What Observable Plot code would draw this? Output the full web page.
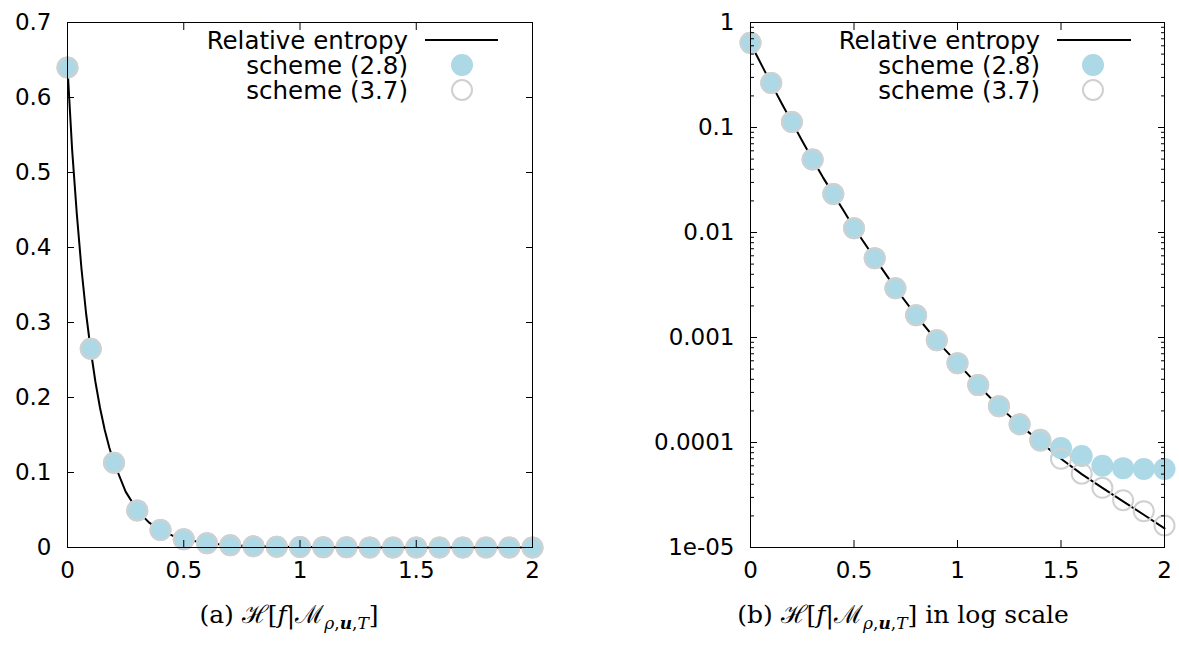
<!DOCTYPE html>
<html>
<head>
<meta charset="utf-8">
<script src="https://cdn.jsdelivr.net/npm/d3@7"></script>
<script src="https://cdn.jsdelivr.net/npm/@observablehq/plot@0.6"></script>
<style>
  html, body { margin: 0; padding: 0; background: #fff; }
  #page { position: relative; width: 1179px; height: 648px; overflow: hidden; background: #fff; }
  .panel { position: absolute; top: 0; }
  .caption { position: absolute; top: 596px; font-family: "DejaVu Serif", "Liberation Serif", serif; font-size: 25px; color: #000; white-space: nowrap; transform: translateX(-50%); }
  .caption sub { font-size: 17px; vertical-align: -6px; line-height: 0; }
  #legend { position: absolute; left: 0; top: 0; pointer-events: none; }
</style>
</head>
<body>
<div id="page">
  <div class="panel" id="left" style="left:0px"></div>
  <div class="panel" id="right" style="left:590px"></div>
  <div class="caption" style="left:289px">(a) ℋ[<i>f</i>|ℳ<sub><i>ρ</i>,<b><i>u</i></b>,<i>T</i></sub>]</div>
  <div class="caption" style="left:903px">(b) ℋ[<i>f</i>|ℳ<sub><i>ρ</i>,<b><i>u</i></b>,<i>T</i></sub>] in log scale</div>
</div>
<script>
// ---- data ----
const times = [0, 0.1, 0.2, 0.3, 0.4, 0.5, 0.6, 0.7, 0.8, 0.9, 1.0, 1.1, 1.2, 1.3, 1.4, 1.5, 1.6, 1.7, 1.8, 1.9, 2.0];
const scheme28 = [0.64, 0.265, 0.113, 0.0495, 0.0233, 0.011, 0.0057, 0.00295, 0.00163, 0.00094, 0.00057, 0.000352, 0.000222, 0.000149, 0.000106, 0.0000885, 0.0000745, 0.00006, 0.000057, 0.000056, 0.000056];
const scheme37 = [0.64, 0.265, 0.113, 0.0495, 0.0233, 0.011, 0.0057, 0.00295, 0.00163, 0.00094, 0.00057, 0.000352, 0.000222, 0.000149, 0.000104, 0.00007, 0.0000505, 0.000037, 0.0000282, 0.0000222, 0.0000162];
const entropyT = [0, 0.02, 0.04, 0.06, 0.08, 0.1, 0.12, 0.14, 0.16, 0.18, 0.2, 0.25, 0.3, 0.35, 0.4, 0.45, 0.5, 0.6, 0.7, 0.8, 0.9, 1.0, 1.1, 1.2, 1.3, 1.4, 1.5, 1.6, 1.7, 1.8, 1.9, 2.0];
const entropyH = [0.64, 0.53, 0.445, 0.372, 0.312, 0.263, 0.221, 0.186, 0.157, 0.133, 0.113, 0.0745, 0.0495, 0.0335, 0.0232, 0.0161, 0.0111, 0.0057, 0.00295, 0.00162, 0.00093, 0.00057, 0.00035, 0.00022, 0.000148, 0.000101, 0.00007, 0.00005, 0.000037, 0.0000275, 0.0000205, 0.0000152];
const xTicks = [0, 0.5, 1, 1.5, 2];
const xTickLabels = ["0", "0.5", "1", "1.5", "2"];
const yLinTicks = [0, 0.1, 0.2, 0.3, 0.4, 0.5, 0.6, 0.7];
const yLinLabels = ["0", "0.1", "0.2", "0.3", "0.4", "0.5", "0.6", "0.7"];
const yLogTicks = [1, 0.1, 0.01, 0.001, 0.0001, 0.00001];
const yLogLabels = ["1", "0.1", "0.01", "0.001", "0.0001", "1e-05"];
const seriesNames = ["Relative entropy", "scheme (2.8)", "scheme (3.7)"];

const FILL_BLUE = "#add8e6";
const RING_GREY = "#d0d0d0";
const FONT = "DejaVu Sans";
const FS = 23;
const LFS = 24.5;

const pts28 = times.map((t, i) => ({t, v: scheme28[i]}));
const pts37 = times.map((t, i) => ({t, v: scheme37[i]}));
const line = entropyT.map((t, i) => ({t, v: entropyH[i]}));

function lab(ticks, labels) { return d => labels[ticks.indexOf(d)] ?? ""; }
const blank = () => "";

function panel({width, marginLeft, marginRight, y, yTicks, yLabels, minor}) {
  const marks = [
    Plot.line(line, {x: "t", y: "v", stroke: "black", strokeWidth: 2}),
    Plot.dot(pts28, {x: "t", y: "v", r: 11, fill: FILL_BLUE, stroke: "none"}),
    Plot.dot(pts37, {x: "t", y: "v", r: 10, fill: "none", stroke: RING_GREY, strokeWidth: 2}),
    Plot.frame({stroke: "black", strokeWidth: 1}),
    Plot.axisX({anchor: "bottom", ticks: xTicks, tickSize: 0, tickPadding: 14, tickFormat: lab(xTicks, xTickLabels), label: null, fontSize: FS}),
    Plot.axisY({anchor: "left", ticks: yTicks, tickSize: 0, tickPadding: 16, tickFormat: lab(yTicks, yLabels), label: null, fontSize: FS}),
    Plot.axisX({anchor: "bottom", ticks: xTicks, tickSize: 7, dy: -7, tickFormat: blank, label: null}),
    Plot.axisX({anchor: "top", ticks: xTicks, tickSize: 7, dy: 7, tickFormat: blank, label: null}),
    Plot.axisY({anchor: "left", ticks: yTicks, tickSize: 7, dx: 7, tickFormat: blank, label: null}),
    Plot.axisY({anchor: "right", ticks: yTicks, tickSize: 7, dx: -7, tickFormat: blank, label: null})
  ];
  if (minor) {
    marks.push(
      Plot.axisY({anchor: "left", ticks: minor, tickSize: 4, dx: 4, tickFormat: blank, label: null}),
      Plot.axisY({anchor: "right", ticks: minor, tickSize: 4, dx: -4, tickFormat: blank, label: null})
    );
  }
  return Plot.plot({
    width, height: 590,
    marginLeft, marginRight, marginTop: 22, marginBottom: 43,
    style: {fontFamily: FONT, fontSize: FS + "px", color: "black", background: "white", overflow: "visible"},
    x: {domain: [0, 2]},
    y,
    marks
  });
}

const minorLog = d3.scaleLog().domain([1e-5, 1]).ticks().filter(v => !yLogTicks.some(m => Math.abs(Math.log10(v) - Math.log10(m)) < 1e-9));

document.getElementById("left").append(panel({
  width: 570, marginLeft: 67, marginRight: 38,
  y: {domain: [0, 0.7]}, yTicks: yLinTicks, yLabels: yLinLabels
}));
document.getElementById("right").append(panel({
  width: 589, marginLeft: 160, marginRight: 15,
  y: {type: "log", domain: [1e-5, 1]}, yTicks: yLogTicks, yLabels: yLogLabels, minor: minorLog
}));

// ---- legends (overlay) ----
const svg = d3.select("#page").append("svg").attr("id", "legend").attr("width", 1179).attr("height", 648);
function legend(textRight, lineX1, lineX2, markX) {
  const rows = [40, 65, 90];
  seriesNames.forEach((name, i) => {
    svg.append("text").attr("x", textRight).attr("y", rows[i]).attr("text-anchor", "end")
      .attr("dominant-baseline", "central").attr("font-family", FONT).attr("font-size", LFS).text(name);
  });
  svg.append("line").attr("x1", lineX1).attr("x2", lineX2).attr("y1", rows[0]).attr("y2", rows[0]).attr("stroke", "black").attr("stroke-width", 2);
  svg.append("circle").attr("cx", markX).attr("cy", rows[1]).attr("r", 11).attr("fill", FILL_BLUE);
  svg.append("circle").attr("cx", markX).attr("cy", rows[2]).attr("r", 10).attr("fill", "none").attr("stroke", RING_GREY).attr("stroke-width", 2);
}
legend(408, 425, 498, 462);
legend(1040, 1057, 1131, 1093);
</script>
</body>
</html>
